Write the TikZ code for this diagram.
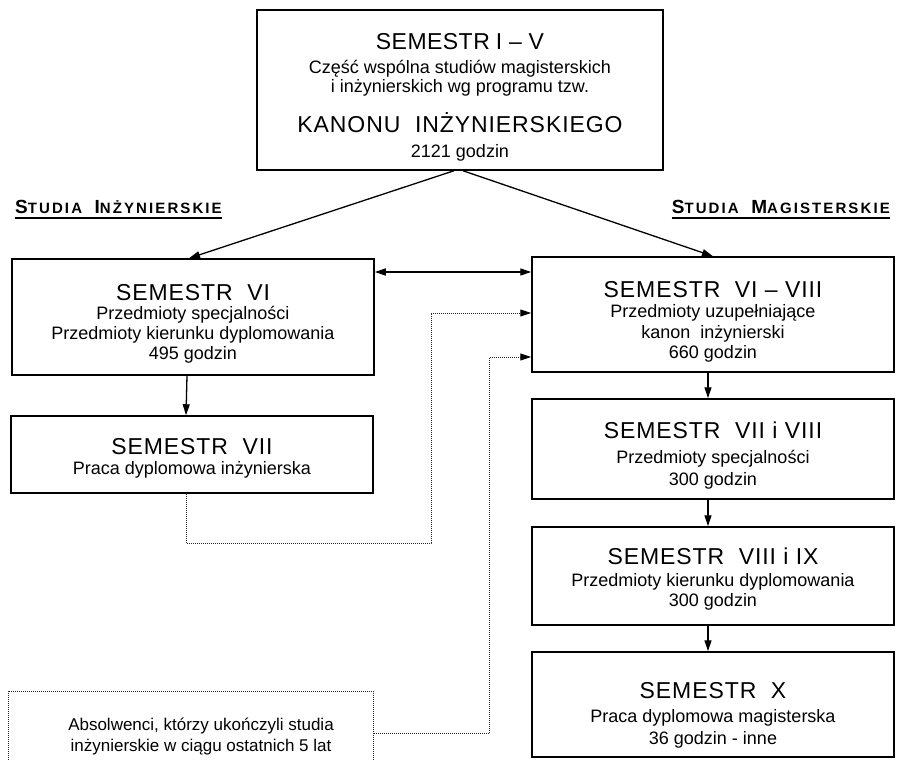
\documentclass[tikz,border=0pt]{standalone}
\usepackage{fontspec}
\setmainfont{Liberation Sans}
\usetikzlibrary{arrows.meta,calc}
\newcommand\boxtitle{\fontsize{23}{24}\selectfont\addfontfeatures{LetterSpace=4}}
\newcommand\bigS{\fontsize{19}{20}\selectfont}
\tikzset{
  box/.style={draw, line width=1.5pt, inner sep=0pt},
  txt/.style={align=center, inner sep=0pt, anchor=north, execute at begin node={\lineskiplimit=-100pt}},
  hdr/.style={inner sep=0pt, font=\fontsize{15}{18}\selectfont\bfseries\addfontfeatures{LetterSpace=14}},
  uline/.style={line width=1.5pt},
  arr/.style={line width=1.3pt, -{Triangle[length=11pt,width=7pt]}},
  dbl/.style={line width=1.3pt, {Triangle[length=11pt,width=7pt]}-{Triangle[length=11pt,width=7pt]}},
  dot/.style={draw=black!85, line width=1pt, dash pattern=on 1pt off 1pt, -{Triangle[length=11pt,width=7pt,color=black,fill=black]}},
  dotline/.style={draw=black!85, line width=1pt, dash pattern=on 1pt off 1pt},
}
\begin{document}
\begin{tikzpicture}[x=1pt,y=-1pt]
\useasboundingbox (0,0) rectangle (903,760);
\clip (0,0) rectangle (903,760);
\fill[white] (0,0) rectangle (903,760);

% boxes
\node[box, minimum width=406pt, minimum height=160pt] (top) at (460,90) {};
\node[box, minimum width=362pt, minimum height=116pt] (vi)  at (193,317) {};
\node[box, minimum width=362pt, minimum height=77pt]  (vii) at (192,454.5) {};
\node[box, minimum width=362pt, minimum height=115pt] (r1)  at (713,314.5) {};
\node[box, minimum width=362pt, minimum height=100pt] (r2)  at (713,449) {};
\node[box, minimum width=362pt, minimum height=98pt]  (r3)  at (713,576) {};
\node[box, minimum width=362pt, minimum height=105pt] (r4)  at (713,704.5) {};
\node[dotline, inner sep=0pt, minimum width=365pt, minimum height=120pt] (dbox) at (190.5,751) {};

% texts
\node[txt, font=\fontsize{18}{18.5}\selectfont] (ttop) at (460,33) {{\fontsize{23}{24}\selectfont\addfontfeatures{LetterSpace=2}SEMESTR\hspace{6pt}I – V}\\[6pt]
Część wspólna studiów magisterskich\\
i inżynierskich wg programu tzw.\\[21.5pt]
{\boxtitle KANONU~~INŻYNIERSKIEGO}\\[6.5pt]
2121 godzin};
\node[txt, font=\fontsize{18}{20}\selectfont] (tvi) at (193,284) {{\boxtitle SEMESTR~~VI}\\[-0.5pt]
Przedmioty specjalności\\
Przedmioty kierunku dyplomowania\\
495 godzin};
\node[txt, font=\fontsize{18}{20}\selectfont] (tvii) at (192,438) {{\boxtitle SEMESTR~~VII}\\[0pt]
Praca dyplomowa inżynierska};
\node[txt, font=\fontsize{18}{20.5}\selectfont] (tr1) at (713,281) {{\boxtitle SEMESTR~~VI – VIII}\\[0pt]
Przedmioty uzupełniające\\
kanon~~inżynierski\\
660 godzin};
\node[txt, font=\fontsize{18}{22}\selectfont] (tr2) at (713,422) {{\boxtitle SEMESTR~~VII i VIII}\\[2.5pt]
Przedmioty specjalności\\
300 godzin};
\node[txt, font=\fontsize{18}{20}\selectfont] (tr3) at (713,548) {{\boxtitle SEMESTR~~VIII i IX}\\[1.5pt]
Przedmioty kierunku dyplomowania\\
300 godzin};
\node[txt, font=\fontsize{18}{22}\selectfont] (tr4) at (713,682) {{\boxtitle SEMESTR~~X}\\[2.5pt]
Praca dyplomowa magisterska\\
36 godzin - inne};
\node[txt, anchor=center, font=\fontsize{17}{21}\selectfont] (tdb) at (201,737) {Absolwenci, którzy ukończyli studia\\
inżynierskie w ciągu ostatnich 5 lat};

% headers
\node[hdr, anchor=base west] (hl) at (15,213) {{\bigS S}TUDIA~~{\bigS I}NŻYNIERSKIE};
\node[hdr, anchor=base east] (hr) at (890,213) {{\bigS S}TUDIA~~{\bigS M}AGISTERSKIE};
\draw[uline] ([yshift=-5pt]hl.base west) -- ([yshift=-5pt]hl.base east);
\draw[uline] ([yshift=-5pt]hr.base west) -- ([yshift=-5pt]hr.base east);

% connectors
\draw[arr] ([xshift=-6pt]top.south) -- ([xshift=-4pt]vi.north);
\draw[arr] ([xshift=3pt]top.south) -- (r1.north);
\coordinate (d) at (450,272);
\draw[dbl] (vi.east |- d) -- (r1.west |- d);
\draw[arr] ([xshift=-6pt]vi.south) -- ([xshift=-6pt]vii.north);
\draw[arr] ([xshift=-5pt]r1.south) -- ([xshift=-5pt]r2.north);
\draw[arr] ([xshift=-5pt]r2.south) -- ([xshift=-5pt]r3.north);
\draw[arr] ([xshift=-5pt]r3.south) -- ([xshift=-5pt]r4.north);
\coordinate (c1) at (431,543);
\draw[dot] ([xshift=-6pt]vii.south) |- (c1) |- ([yshift=1.5pt]r1.west);
\coordinate (c2) at (489,733);
\draw[dot] (dbox.east |- c2) -- (c2) |- ([yshift=-42.5pt]r1.west);
\end{tikzpicture}
\end{document}
